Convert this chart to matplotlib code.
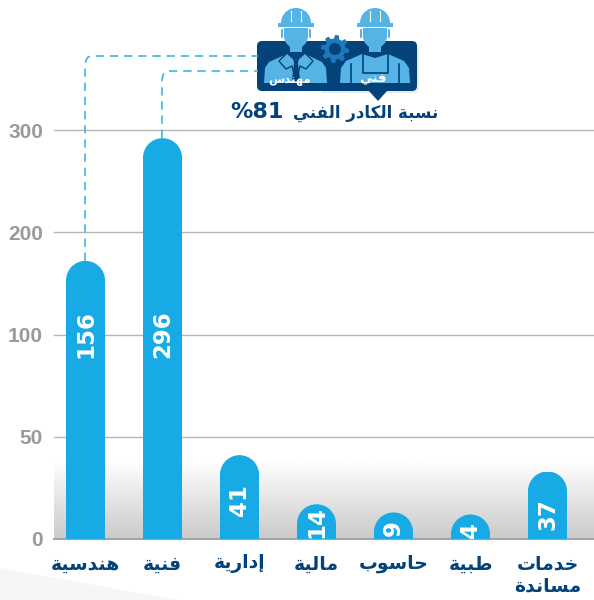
import numpy as np
import matplotlib
matplotlib.use('Agg')
import matplotlib.pyplot as plt
from matplotlib.patches import Polygon, Wedge, FancyBboxPatch, Circle, Rectangle
from matplotlib.path import Path
from matplotlib.transforms import IdentityTransform

# values
categories = ['هندسية', 'فنية', 'إدارية', 'مالية', 'حاسوب', 'طبية', 'خدمات\nمساندة']
bar_labels = ['156', '296', '41', '14', '9', '4', '37']
# bar tops as they sit on the axis in the picture (not to scale with the labels)
bar_tops = [172, 292, 41, 17, 13, 12, 33]
tick_values = [0, 50, 100, 200, 300]
title_text = 'نسبة الكادر الفني'
title_pct = '%81'
engineer_text = 'مهندس'
tech_text = 'فني'

BLUE = '#17aae4'
NAVY = '#04427a'
LIGHT = '#55b3e6'
DASH = '#3cb6e6'
W, H = 594, 600

# arabic shaping, matplotlib does not do it: isolated, final, initial, medial
forms = {
    'ا': (0xFE8D, 0xFE8E), 'إ': (0xFE87, 0xFE88), 'ة': (0xFE93, 0xFE94),
    'د': (0xFEA9, 0xFEAA), 'ر': (0xFEAD, 0xFEAE), 'و': (0xFEED, 0xFEEE),
    'ب': (0xFE8F, 0xFE90, 0xFE91, 0xFE92), 'ت': (0xFE95, 0xFE96, 0xFE97, 0xFE98),
    'ح': (0xFEA1, 0xFEA2, 0xFEA3, 0xFEA4), 'خ': (0xFEA5, 0xFEA6, 0xFEA7, 0xFEA8),
    'س': (0xFEB1, 0xFEB2, 0xFEB3, 0xFEB4), 'ط': (0xFEC1, 0xFEC2, 0xFEC3, 0xFEC4),
    'ف': (0xFED1, 0xFED2, 0xFED3, 0xFED4), 'ك': (0xFED9, 0xFEDA, 0xFEDB, 0xFEDC),
    'ل': (0xFEDD, 0xFEDE, 0xFEDF, 0xFEE0), 'م': (0xFEE1, 0xFEE2, 0xFEE3, 0xFEE4),
    'ن': (0xFEE5, 0xFEE6, 0xFEE7, 0xFEE8), 'ه': (0xFEE9, 0xFEEA, 0xFEEB, 0xFEEC),
    'ي': (0xFEF1, 0xFEF2, 0xFEF3, 0xFEF4),
}


def shape_line(s):
    out = []
    for i, c in enumerate(s):
        if c not in forms:
            out.append(c)
            continue
        prev = s[i - 1] if i > 0 else ' '
        nxt = s[i + 1] if i < len(s) - 1 else ' '
        from_right = prev in forms and len(forms[prev]) == 4
        to_left = len(forms[c]) == 4 and nxt in forms
        if from_right and to_left:
            code = forms[c][3]
        elif from_right:
            code = forms[c][1]
        elif to_left:
            code = forms[c][2]
        else:
            code = forms[c][0]
        out.append(chr(code))
    return ''.join(reversed(out))


def shape(s):
    return '\n'.join(shape_line(p) for p in s.split('\n'))


# the y axis has equal gaps for 0, 50, 100, 200, 300
slots = np.arange(len(tick_values))


def forward(v):
    return np.interp(v, tick_values, slots)


def inverse(v):
    return np.interp(v, slots, tick_values)


fig = plt.figure(figsize=(W / 100, H / 100), dpi=100, facecolor='white')

# background: pale wedge and grey gradient
bg = fig.add_axes([0, 0, 1, 1], zorder=0)
bg.set_xlim(0, W)
bg.set_ylim(H, 0)
bg.axis('off')
bg.add_patch(Polygon([(0, 568), (178, 600), (0, 600)], color='#f6f6f6', lw=0))
grad = np.linspace(1, 0.79, 80).reshape(-1, 1)
bg.imshow(grad, cmap='gray', vmin=0, vmax=1, extent=(54, W, 539, 460), aspect='auto', zorder=1)
bg.set_xlim(0, W)
bg.set_ylim(H, 0)

# chart
ax = fig.add_axes([54 / W, (H - 539) / H, 540 / W, 409 / H], zorder=1)
ax.patch.set_alpha(0)
ax.set_yscale('function', functions=(forward, inverse))
ax.set_ylim(0, 300)
x = np.arange(len(categories))
ax.set_xlim(-31.5 / 77, 6 + 46.5 / 77)
for s in ['top', 'left', 'right']:
    ax.spines[s].set_visible(False)
ax.spines['bottom'].set_color('#a3a3a3')
ax.spines['bottom'].set_linewidth(1.4)
ax.set_yticks(tick_values)
ax.set_yticklabels([str(t) for t in tick_values], fontfamily='Liberation Sans',
                   fontweight='bold', fontsize=15, color='#9a9a9a')
ax.yaxis.set_minor_locator(plt.NullLocator())
ax.set_xticks(x)
ax.set_xticklabels([shape(c) for c in categories], fontfamily='DejaVu Sans',
                   fontweight='bold', fontsize=13.5, color=NAVY, linespacing=1.2)
ax.tick_params(axis='both', length=0)
ax.tick_params(axis='y', pad=8)
ax.tick_params(axis='x', pad=11)
for t in tick_values[1:]:
    ax.axhline(t, color='#b5b5b5', lw=1.0, zorder=1, clip_on=False)

bars = ax.bar(x, bar_tops, width=39 / 77, color=BLUE, zorder=3)
# round the top of each bar
for b in bars:
    (x0, y0), (x1, y1) = ax.transData.transform(
        [(b.get_x(), 0), (b.get_x() + b.get_width(), b.get_height())])
    r = (x1 - x0) / 2
    arc = Path.arc(0, 180)
    verts = arc.vertices * r + [(x0 + x1) / 2, y1 - r]
    verts = np.vstack([verts, [x0, y0 - 2], [x1, y0 - 2], verts[0]])
    codes = list(arc.codes) + [Path.LINETO, Path.LINETO, Path.CLOSEPOLY]
    b.set_clip_path(Path(verts, codes), IdentityTransform())

# value labels, centre height in pixels from the top
label_rows = [334, 334, 500, 522, 528, 530, 514]
for i, lab in enumerate(bar_labels):
    ax.annotate(lab, xy=(x[i], H - label_rows[i]), xycoords=('data', 'figure pixels'),
                ha='center', va='center', rotation=90, color='white',
                fontfamily='DejaVu Sans', fontweight='bold', fontsize=16.5, zorder=4)

# overlay in pixel coordinates: connectors and the workers badge
top = fig.add_axes([0, 0, 1, 1], zorder=2)
top.set_xlim(0, W)
top.set_ylim(H, 0)
top.axis('off')

dash = dict(color=DASH, lw=1.2, dashes=(5, 3.5))
top.plot([85, 85, 86, 88, 93, 258], [261, 66, 60, 57, 56, 56], **dash)
top.plot([162, 162, 163, 165, 171, 258], [138, 80, 75, 72, 71, 71], **dash)

# box with pointer
top.add_patch(FancyBboxPatch((320, 45), 99, 48, boxstyle='round,pad=0,rounding_size=5',
                             fc='#cfcfcf', ec='none', alpha=0.4))
top.add_patch(FancyBboxPatch((257, 41), 160, 50, boxstyle='round,pad=0,rounding_size=5',
                             fc=NAVY, ec='none'))
top.add_patch(Polygon([(369, 91), (387, 91), (378, 101)], fc=NAVY, ec='none'))

# gear
cx, cy = 335, 49
ang = np.linspace(0, 2 * np.pi, 65)[:-1]
rad = np.where((np.arange(64) % 8) < 4, 14, 10.5)
top.add_patch(Polygon(np.c_[cx + rad * np.cos(ang), cy + rad * np.sin(ang)], fc='#1f78b8', ec='none'))
top.add_patch(Circle((cx, cy), 6, fc=NAVY, ec='none'))


def worker(c):
    # helmet, ears, head
    top.add_patch(Wedge((c, 23), 15, 180, 360, fc=LIGHT, ec='none'))
    top.add_patch(Rectangle((c - 18, 23), 36, 3.5, fc=LIGHT, ec='none'))
    top.plot([c - 5, c - 5], [11, 21], color='white', lw=0.8)
    top.plot([c + 5, c + 5], [11, 21], color='white', lw=0.8)
    top.add_patch(FancyBboxPatch((c - 15, 29), 2, 9, boxstyle='round,pad=0,rounding_size=0.8', fc=LIGHT, ec='none'))
    top.add_patch(FancyBboxPatch((c + 13, 29), 2, 9, boxstyle='round,pad=0,rounding_size=0.8', fc=LIGHT, ec='none'))
    top.add_patch(Polygon([(c - 12, 28), (c + 12, 28), (c + 12, 38), (c + 10, 43), (c + 6, 47),
                           (c + 6, 52), (c - 6, 52), (c - 6, 47), (c - 10, 43), (c - 12, 38)],
                          fc=LIGHT, ec='none'))


worker(296)
worker(375)

# engineer suit
top.add_patch(Polygon([(264, 83), (265, 68), (269, 62), (287, 54), (296, 62), (305, 54),
                       (322, 62), (326, 68), (327, 83)], fc=LIGHT, ec='none'))
top.plot([288, 279, 286, 292, 296, 300, 306, 313, 304], [52, 61, 69, 66, 83, 66, 69, 61, 52], color=NAVY, lw=1.0)
top.add_patch(Polygon([(293, 57), (299, 57), (298, 63), (300, 80), (296, 83), (292, 80), (294, 63)], fc=NAVY, ec='none'))

# technician with apron
top.add_patch(Polygon([(340, 83), (341, 68), (346, 61), (362, 54), (375, 58), (388, 54),
                       (404, 61), (409, 68), (410, 83)], fc=LIGHT, ec='none'))
top.plot([363, 363, 388, 388], [54, 73, 73, 54], color=NAVY, lw=1.2)
top.plot([351, 351], [64, 83], color=NAVY, lw=1.2)
top.plot([399, 399], [64, 83], color=NAVY, lw=1.2)

top.text(290, 79, shape(engineer_text), color='white', ha='center', va='center',
         fontfamily='DejaVu Sans', fontweight='bold', fontsize=8.5)
top.text(373, 79, shape(tech_text), color='white', ha='center', va='center',
         fontfamily='DejaVu Sans', fontweight='bold', fontsize=9.5)

# title
top.text(438, 113, shape(title_text), color=NAVY, ha='right', va='center',
         fontfamily='DejaVu Sans', fontweight='bold', fontsize=12)
top.text(257, 112, title_pct, color=NAVY, ha='center', va='center',
         fontfamily='DejaVu Sans', fontweight='bold', fontsize=16)

fig.savefig('out.png', dpi=100)
